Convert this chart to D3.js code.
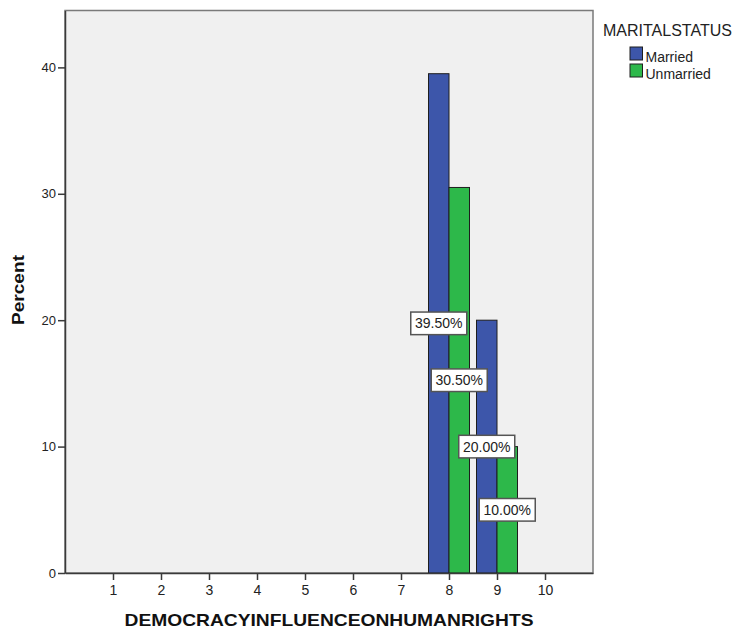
<!DOCTYPE html>
<html><head><meta charset="utf-8">
<script src="https://cdn.jsdelivr.net/npm/d3@7"></script>
<style>body{margin:0;background:#fff;}svg{display:block;font-family:"Liberation Sans",Arial,sans-serif;}</style>
</head><body><svg id="c" width="738" height="632"></svg>
<script>
const categories = [1,2,3,4,5,6,7,8,9,10];
const married   = [0,0,0,0,0,0,0,39.5,20.0,0];
const unmarried = [0,0,0,0,0,0,0,30.5,10.0,0];
const seriesNames = ["Married","Unmarried"];
const seriesColors = ["#3d56aa","#2db84a"];
const yTicks = [0,10,20,30,40];

const svg = d3.select("#c");
const L=65,R=593,T=10.5,B=573;
const x = d3.scaleLinear().domain([0,11]).range([L,R]);
const y = d3.scaleLinear().domain([0,44.5]).range([B,T]);
const bw = 20.5;

svg.append("rect").attr("x",L).attr("y",T).attr("width",R-L).attr("height",B-T)
  .attr("fill","#f0f0f0").attr("stroke","#7a7a7a").attr("stroke-width",1.5);

const data=[];
categories.forEach((c,i)=>{
  [married[i],unmarried[i]].forEach((v,s)=>{ if(v>0) data.push({c,v,s}); });
});
svg.selectAll("rect.bar").data(data).enter().append("rect").attr("class","bar")
  .attr("x",d=>x(d.c)+(d.s===0?-bw:0)).attr("y",d=>y(d.v))
  .attr("width",bw).attr("height",d=>y(0)-y(d.v))
  .attr("fill",d=>seriesColors[d.s]).attr("stroke","#1e1e1e").attr("stroke-width",1);

// axes
const ya = svg.append("g").attr("transform",`translate(${L},0)`)
  .call(d3.axisLeft(y).tickValues(yTicks).tickSize(7).tickSizeOuter(0).tickPadding(2));
const xa = svg.append("g").attr("transform",`translate(0,${B})`)
  .call(d3.axisBottom(x).tickValues(categories).tickSize(7).tickSizeOuter(0).tickPadding(5));
[ya,xa].forEach(g=>{
  g.attr("font-size",null).attr("font-family",null);
  g.select(".domain").attr("stroke","#3a3a3a").attr("stroke-width",1.5);
  g.selectAll(".tick line").attr("stroke","#3a3a3a").attr("stroke-width",1.5);
  g.selectAll(".tick text").attr("fill","#222").style("font-size","13px");
});
xa.selectAll(".tick text").style("font-size","14px");

// labels
const lab = svg.selectAll("g.lab").data(data).enter().append("g").attr("class","lab")
  .attr("transform",d=>`translate(${x(d.c)+(d.s===0?-bw/2:bw/2)},${y(d.v/2)})`);
lab.append("rect").attr("x",-28).attr("y",-11.3).attr("width",56).attr("height",22.6)
  .attr("fill","#fff").attr("stroke","#555").attr("stroke-width",1.5);
lab.append("text").attr("text-anchor","middle").attr("dy","0.36em")
  .style("font-size","14px").attr("fill","#222").text(d=>d.v.toFixed(2)+"%");

// axis titles
svg.append("text").attr("transform","translate(24,290) rotate(-90)").attr("text-anchor","middle")
  .style("font-size","17px").attr("font-weight","bold").attr("fill","#111")
  .attr("textLength",70).attr("lengthAdjust","spacingAndGlyphs").text("Percent");
svg.append("text").attr("x",(L+R)/2).attr("y",626).attr("text-anchor","middle")
  .style("font-size","17px").attr("font-weight","bold").attr("fill","#111")
  .attr("textLength",409).attr("lengthAdjust","spacingAndGlyphs").text("DEMOCRACYINFLUENCEONHUMANRIGHTS");

// legend
svg.append("text").attr("x",603).attr("y",35.5).style("font-size","16px").attr("fill","#222").text("MARITALSTATUS");
seriesNames.forEach((n,i)=>{
  const gy=47+i*17;
  svg.append("rect").attr("x",630).attr("y",gy).attr("width",12.5).attr("height",13)
    .attr("fill",seriesColors[i]).attr("stroke","#1e1e1e").attr("stroke-width",1);
  svg.append("text").attr("x",645.5).attr("y",gy+14.5).style("font-size","14px").attr("fill","#222").text(n);
});
</script></body></html>
